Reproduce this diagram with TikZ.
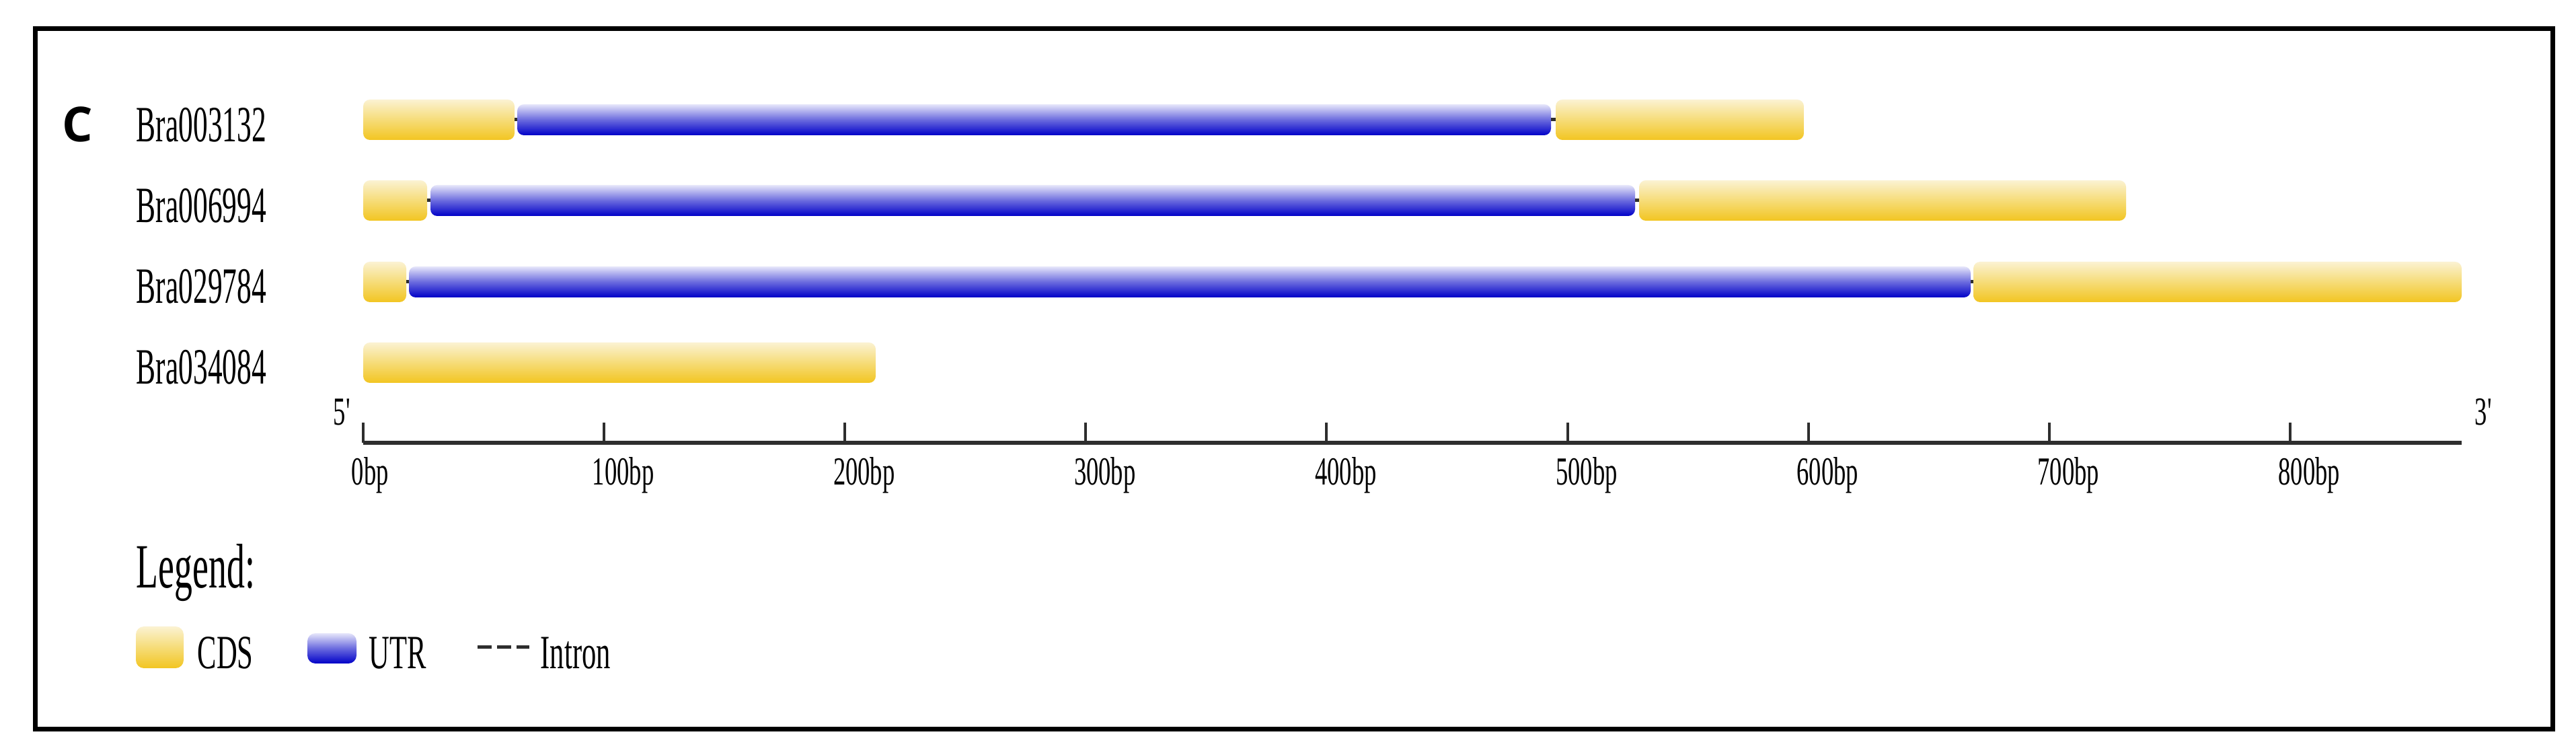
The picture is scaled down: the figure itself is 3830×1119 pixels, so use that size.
\documentclass[tikz,border=0pt]{standalone}
\usepackage{fontspec}
\newfontfamily\genefont[FakeStretch=0.575]{Liberation Serif}
\newfontfamily\axisfont[FakeStretch=0.62]{Liberation Serif}
\newfontfamily\legfont[FakeStretch=0.6]{Liberation Serif}
\newfontfamily\panelfont{Open Sans}
\definecolor{cdsTop}{HTML}{FBF2D2}
\definecolor{cdsMid}{HTML}{F6DC78}
\definecolor{cdsBot}{HTML}{F2C521}
\definecolor{utrTop}{HTML}{E6E6FA}
\definecolor{utrMid}{HTML}{6A6ADE}
\definecolor{utrBot}{HTML}{0000C8}
\definecolor{axisgray}{HTML}{2E2E2E}
\tikzset{
  cdsbox/.style={inner sep=0pt, outer sep=0pt, minimum height=15pt, rounded corners=2.5pt,
    draw=none, top color=cdsTop, bottom color=cdsBot, middle color=cdsMid},
  utrbox/.style={inner sep=0pt, outer sep=0pt, minimum height=11.5pt, rounded corners=2.5pt,
    draw=none, top color=utrTop, bottom color=utrBot, middle color=utrMid},
  intronline/.style={draw=axisgray, line width=1.25pt},
  genelabel/.style={anchor=base west, inner sep=0pt, font={\genefont\fontsize{18.9pt}{20pt}\selectfont}},
  axislabel/.style={anchor=base west, inner sep=0pt, font={\axisfont\fontsize{14.75pt}{16pt}\selectfont}},
  legtitle/.style={anchor=base west, inner sep=0pt, font={\genefont\fontsize{23.4pt}{25pt}\selectfont}},
  legtext/.style={anchor=base west, inner sep=0pt, font={\legfont\fontsize{17.75pt}{19pt}\selectfont}},
  axisline/.style={draw=axisgray, line width=1.6pt},
  tickline/.style={draw=axisgray, line width=1pt},
  legdash/.style={draw=axisgray, line width=1.25pt, dash pattern=on 5.25pt off 2pt},
  frameline/.style={draw=black, line width=1.75pt}
}
\newcommand{\exonnode}[5]{%
  \pgfmathsetmacro\exw{(#4-#3)*0.25}%
  \node[#1, anchor=west, minimum width=\exw pt] (#2) at (#3,#5) {};}
\begin{document}
\begin{tikzpicture}[x=0.25pt, y=-0.25pt]
\useasboundingbox (0,0) rectangle (3830,1119);
\fill[white] (0,0) rectangle (3830,1119);
\draw[frameline] (52,43) rectangle (3795,1084);

% panel letter
\node[anchor=base west, inner sep=0pt, font={\panelfont\bfseries\fontsize{17.9pt}{20pt}\selectfont}] (panel) at (92,211) {C};

% gene labels
\node[genelabel] (g1) at (202,211) {Bra003132};
\node[genelabel] (g2) at (202,331) {Bra006994};
\node[genelabel] (g3) at (202,451) {Bra029784};
\node[genelabel] (g4) at (202,571) {Bra034084};

% row 1
\exonnode{cdsbox}{a1}{540}{765}{178}
\exonnode{utrbox}{b1}{769}{2306}{178}
\exonnode{cdsbox}{c1}{2313}{2682}{178}
\draw[intronline] (a1.east) -- (b1.west);
\draw[intronline] (b1.east) -- (c1.west);
% row 2
\exonnode{cdsbox}{a2}{540}{635}{298}
\exonnode{utrbox}{b2}{640}{2431}{298}
\exonnode{cdsbox}{c2}{2437}{3161}{298}
\draw[intronline] (a2.east) -- (b2.west);
\draw[intronline] (b2.east) -- (c2.west);
% row 3
\exonnode{cdsbox}{a3}{540}{604}{419}
\exonnode{utrbox}{b3}{608}{2930}{419}
\exonnode{cdsbox}{c3}{2934}{3660}{419}
\draw[intronline] (a3.east) -- (b3.west);
\draw[intronline] (b3.east) -- (c3.west);
% row 4
\exonnode{cdsbox}{a4}{540}{1302}{539}

% axis
\coordinate (ax0) at (540,658);
\coordinate (ax1) at (3660,658);
\draw[axisline] (ax0) -- (ax1);
\foreach \i in {0,...,8}{
  \pgfmathsetmacro\tx{540+358.1*\i}
  \pgfmathtruncatemacro\bp{100*\i}
  \coordinate (t\i) at (\tx,658);
  \draw[tickline] (t\i) -- ++(0,-30);
  \node[axislabel] (tl\i) at (\tx-18,721) {\bp bp};
}
\node[axislabel] (five) at (495,632) {5'};
\node[axislabel] (three) at (3679,632) {3'};

% legend
\node[legtitle] (legend) at (202,874) {Legend:};
\node[cdsbox, minimum width=17.75pt, minimum height=15.5pt, rounded corners=3pt] (lcds) at (237.5,962) {};
\node[legtext] (tcds) at (293,994) {CDS};
\node[utrbox, minimum width=18.25pt, minimum height=11.25pt, rounded corners=3pt] (lutr) at (493.5,963.5) {};
\node[legtext] (tutr) at (548,994) {UTR};
\coordinate (d0) at (710,962);
\coordinate (d1) at (787,962);
\draw[legdash] (d0) -- (d1);
\node[legtext] (tintron) at (803,994) {Intron};
\end{tikzpicture}
\end{document}
